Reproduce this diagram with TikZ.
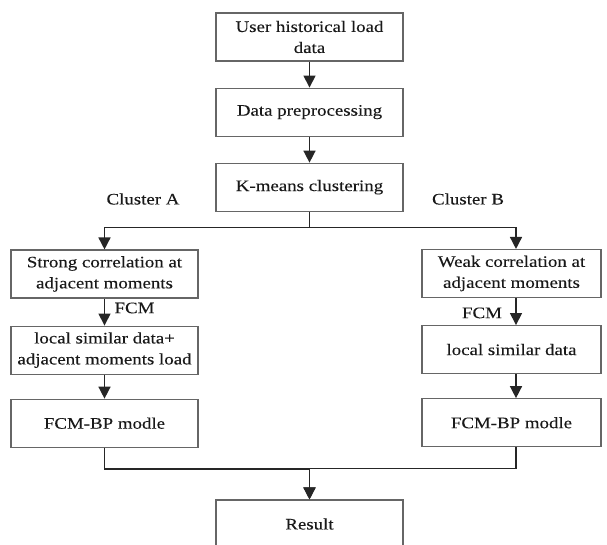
\documentclass[tikz,border=0pt]{standalone}
\usepackage{fontspec}
\setmainfont{Liberation Serif}[FakeStretch=1.18, FakeBold=0.15]
\usetikzlibrary{positioning, arrows.meta}
\tikzset{
node distance=26pt, % gap between two stacked boxes
box/.style={draw=gray!80!black, line width=1.1pt, minimum width=187pt, minimum height=48pt, inner sep=0pt, align=center, font=\fontsize{16}{21}\selectfont, text=black!90}, % every step of the flow
narrow/.style={box, minimum width=179pt}, % boxes of the right column
flow/.style={-{Triangle[length=12pt, width=12pt]}, line width=1.5pt, draw=black!85}, % the connectors
tag/.style={font=\fontsize{16}{21}\selectfont, text=black!90}, % labels beside the connectors
}
\begin{document}
\begin{tikzpicture}[x=1pt, y=-1pt]
    \useasboundingbox (0,0) rectangle (607,544);
    \clip (0,0) rectangle (607,544);

    \node[box] (load) at (309.5,37) {User historical load\\data};
    \node[box, below=of load] (prep) {Data preprocessing};
    \node[box, below=of prep] (kmeans) {K-means clustering};

    \node[box] (strong) at (104.5,274) {Strong correlation at\\adjacent moments};
    \node[box, below=27pt of strong] (simA) {local similar data+\\adjacent moments load};
    \node[box, below=24pt of simA] (bpA) {FCM-BP modle};

    \node[narrow] (weak) at (511.5,273.5) {Weak correlation at\\adjacent moments};
    \node[narrow, below=27pt of weak] (simB) {local similar data};
    \node[narrow, below=24pt of simB] (bpB) {FCM-BP modle};

    \node[box] (result) at (309.5,524) {Result};

    \node[tag] (clA) at (143,199) {Cluster A};
    \node[tag] (clB) at (468,199) {Cluster B};
    \coordinate (colB) at (516,0);

    \draw[flow] (load) -- (prep);
    \draw[flow] (prep) -- (kmeans);
    \draw[flow] (kmeans.south) -- ++(0,15.5) -| (strong.north);
    \draw[flow] (kmeans.south) -- ++(0,15.5) -| (weak.north -| colB);

    \draw[flow] (strong) -- node[tag, right=6pt, pos=0.35] {FCM} (simA);
    \draw[flow] (simA) -- (bpA);
    \draw[flow] (weak.south -| colB) -- node[tag, left=10pt, pos=0.55] {FCM} (simB.north -| colB);
    \draw[flow] (simB.south -| colB) -- (bpB.north -| colB);

    \draw[flow] (bpA.south) -- ++(0,21) -| (result.north);
    \draw[flow] (bpB.south -| colB) -- ++(0,21) -| (result.north);
\end{tikzpicture}
\end{document}
